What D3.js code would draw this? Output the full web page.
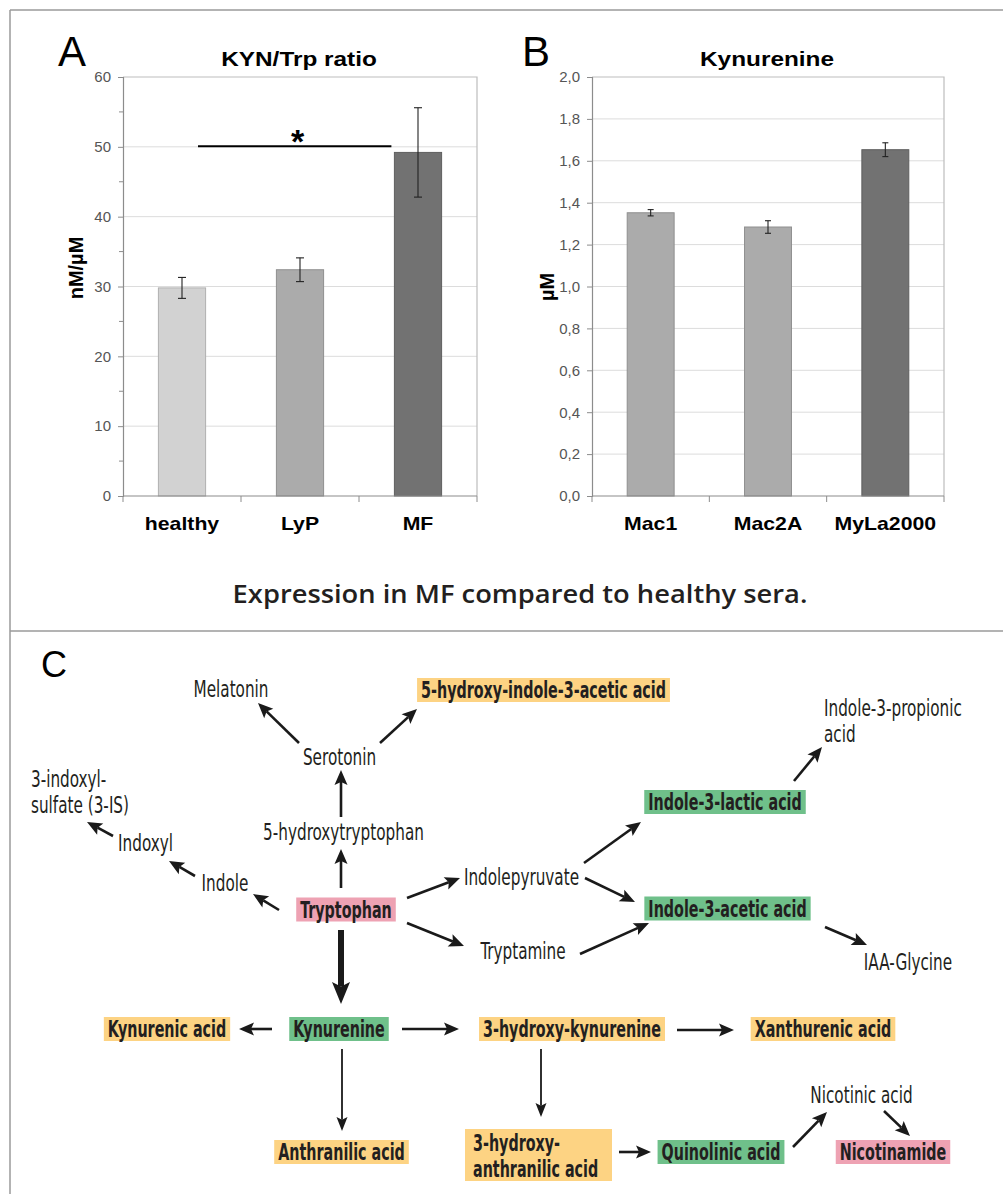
<!DOCTYPE html>
<html>
<head>
<meta charset="utf-8">
<script src="https://cdn.jsdelivr.net/npm/d3@7"></script>
<style>
  html, body { margin: 0; padding: 0; background: #fff; }
  svg { display: block; }
</style>
</head>
<body>
<svg id="fig" width="1003" height="1194"></svg>
<script>
// ---------------- DATA ----------------
const ratioCategories = ["healthy", "LyP", "MF"];
const ratioValues = [29.8, 32.4, 49.2];
const ratioErrors = [1.5, 1.7, 6.4];
const ratioTicks = [0, 10, 20, 30, 40, 50, 60];
const ratioMinorTicks = [5, 15, 25, 35, 45, 55];
const ratioColors = ["#d2d2d2", "#ababab", "#727272"];
const ratioSignificance = { from: "healthy", to: "MF", value: 50.1, label: "*" };

const kynCategories = ["Mac1", "Mac2A", "MyLa2000"];
const kynValues = [1.352, 1.284, 1.653];
const kynErrors = [0.015, 0.03, 0.033];
const kynTicks = [0, 0.2, 0.4, 0.6, 0.8, 1.0, 1.2, 1.4, 1.6, 1.8, 2.0];
const kynColors = ["#ababab", "#ababab", "#727272"];

const captionText = "Expression in MF compared to healthy sera.";

// Pathway diagram (panel C): labels and kinds
const pathNodes = [
  { lines: ["Melatonin"], kind: "plain", cx: 231, cy: 689 },
  { lines: ["5-hydroxy-indole-3-acetic acid"], kind: "orange", cx: 543.5, cy: 690 },
  { lines: ["Serotonin"], kind: "plain", cx: 339.5, cy: 757 },
  { lines: ["5-hydroxytryptophan"], kind: "plain", cx: 343.5, cy: 832 },
  { lines: ["3-indoxyl-", "sulfate (3-IS)"], kind: "plainLeft", x: 31, cy: 779, lh: 26 },
  { lines: ["Indoxyl"], kind: "plain", cx: 145.5, cy: 843 },
  { lines: ["Indole"], kind: "plain", cx: 225, cy: 883 },
  { lines: ["Tryptophan"], kind: "pink", cx: 346, cy: 909.5 },
  { lines: ["Indolepyruvate"], kind: "plain", cx: 521.5, cy: 877 },
  { lines: ["Indole-3-propionic", "acid"], kind: "plainLeft", x: 824, cy: 708, lh: 26 },
  { lines: ["Indole-3-lactic acid"], kind: "green", cx: 725, cy: 802 },
  { lines: ["Indole-3-acetic acid"], kind: "green", cx: 727.5, cy: 908.5 },
  { lines: ["Tryptamine"], kind: "plain", cx: 523, cy: 951 },
  { lines: ["IAA-Glycine"], kind: "plain", cx: 908, cy: 962 },
  { lines: ["Kynurenic acid"], kind: "orange", cx: 167, cy: 1029 },
  { lines: ["Kynurenine"], kind: "green", cx: 339, cy: 1029 },
  { lines: ["3-hydroxy-kynurenine"], kind: "orange", cx: 572, cy: 1029 },
  { lines: ["Xanthurenic acid"], kind: "orange", cx: 823, cy: 1029 },
  { lines: ["Anthranilic acid"], kind: "orange", cx: 341.5, cy: 1152 },
  { lines: ["3-hydroxy-", "anthranilic acid"], kind: "orangeLeft", x: 473, cy: 1143, lh: 26, box: [465, 1129, 612, 1181] },
  { lines: ["Quinolinic acid"], kind: "green", cx: 721, cy: 1152 },
  { lines: ["Nicotinic acid"], kind: "plain", cx: 861.5, cy: 1095 },
  { lines: ["Nicotinamide"], kind: "pink", cx: 893, cy: 1152 }
];
// arrows: [x1, y1, x2, y2, style]
const pathArrows = [
  [299, 743, 258, 703, "n"], [380, 743, 417, 709, "n"],
  [341, 817, 341, 770, "n"], [341, 888, 341, 849, "n"],
  [279, 910, 253, 894, "n"], [195, 876, 169, 861, "n"], [113, 836, 87, 822, "n"],
  [407, 898, 460, 878, "n"], [584, 863, 641, 822, "n"], [794, 781, 822, 747, "n"],
  [585, 878, 635, 902, "n"], [407, 923, 464, 946, "n"], [580, 954, 649, 923, "n"],
  [825, 927, 867, 945, "n"],
  [341, 930, 341, 1004, "b"],
  [272, 1029, 239, 1029, "n"], [402, 1029, 459, 1029, "n"], [677, 1030, 734, 1030, "n"],
  [342, 1049, 342, 1131, "t"], [541, 1049, 541, 1117, "t"],
  [619, 1152, 651, 1152, "n"], [793, 1147, 827, 1112, "n"], [884, 1111, 910, 1136, "n"]
];

// ---------------- STYLE ----------------
const svg = d3.select("#fig");
const chartFont = "'Liberation Sans', Arial, Helvetica, sans-serif";
const diagFont = "'Liberation Sans Narrow', 'Arial Narrow', 'DejaVu Sans Condensed', 'Liberation Sans', sans-serif";
const boxFill = { orange: "#fdd383", green: "#6fc08a", pink: "#eea2b3" };
const inkColor = "#231f20";
const stretch = 1.18;

svg.append("rect").attr("width", 1003).attr("height", 1194).attr("fill", "#fff");

// Frame lines
const frame = svg.append("g").attr("stroke", "#9a9a9a").attr("stroke-width", 1.5);
frame.append("line").attr("x1", 10).attr("x2", 1003).attr("y1", 10).attr("y2", 10);
frame.append("line").attr("x1", 10).attr("x2", 10).attr("y1", 10).attr("y2", 1194);
frame.append("line").attr("x1", 10).attr("x2", 1003).attr("y1", 631).attr("y2", 631);

function stretchedText(g, x, y, txt, opts) {
  const t = g.append("text")
    .attr("transform", `translate(${x},${y}) scale(${opts.sx || 1},1)`)
    .attr("text-anchor", opts.anchor || "middle")
    .attr("font-family", opts.family || chartFont)
    .attr("font-size", opts.size)
    .attr("font-weight", opts.weight || "normal")
    .attr("fill", opts.fill || "#000")
    .text(txt);
  return t;
}

// ---------------- BAR CHART PANEL ----------------
function barPanel(cfg) {
  const g = svg.append("g");
  const x = d3.scaleBand().domain(cfg.categories).range([cfg.left, cfg.right])
    .paddingInner(0.6).paddingOuter(0.3);
  const y = d3.scaleLinear().domain([0, cfg.max]).range([cfg.bottom, cfg.top]);

  // gridlines
  g.append("g").selectAll("line").data(cfg.ticks.filter(d => d > 0 && d < cfg.max)).join("line")
    .attr("x1", cfg.left).attr("x2", cfg.right)
    .attr("y1", d => y(d)).attr("y2", d => y(d))
    .attr("stroke", "#dcdcdc").attr("stroke-width", 1);
  // plot border (top & right)
  g.append("path")
    .attr("d", `M${cfg.left},${y(cfg.max)}H${cfg.right}V${cfg.bottom}`)
    .attr("fill", "none").attr("stroke", "#bdbdbd").attr("stroke-width", 1.2);

  // bars
  g.append("g").selectAll("rect").data(cfg.values).join("rect")
    .attr("x", (d, i) => x(cfg.categories[i]))
    .attr("width", x.bandwidth())
    .attr("y", d => y(d))
    .attr("height", d => y(0) - y(d))
    .attr("fill", (d, i) => cfg.colors[i])
    .attr("stroke", (d, i) => d3.color(cfg.colors[i]).darker(0.5))
    .attr("stroke-width", 1);

  // error bars
  const eb = g.append("g").attr("stroke", "#222").attr("stroke-width", 1.1);
  cfg.values.forEach((v, i) => {
    const cx = x(cfg.categories[i]) + x.bandwidth() / 2;
    const e = cfg.errors[i];
    eb.append("line").attr("x1", cx).attr("x2", cx).attr("y1", y(v + e)).attr("y2", y(v - e));
    eb.append("line").attr("x1", cx - cfg.cap).attr("x2", cx + cfg.cap).attr("y1", y(v + e)).attr("y2", y(v + e));
    eb.append("line").attr("x1", cx - cfg.cap).attr("x2", cx + cfg.cap).attr("y1", y(v - e)).attr("y2", y(v - e));
  });

  // y axis
  const yAxis = d3.axisLeft(y).tickValues(cfg.ticks).tickSize(5).tickPadding(7).tickFormat(cfg.format);
  const ya = g.append("g").attr("transform", `translate(${cfg.left},0)`).call(yAxis);
  ya.select(".domain").attr("stroke", "#8c8c8c").attr("stroke-width", 1.2);
  ya.selectAll(".tick line").attr("stroke", "#8c8c8c");
  ya.selectAll(".tick text").attr("font-family", chartFont).attr("font-size", 15).attr("fill", "#555");
  if (cfg.minor) {
    g.append("g").selectAll("line").data(cfg.minor).join("line")
      .attr("x1", cfg.left - 4).attr("x2", cfg.left)
      .attr("y1", d => y(d)).attr("y2", d => y(d))
      .attr("stroke", "#8c8c8c");
  }

  // x axis
  const xa = g.append("g");
  xa.append("line").attr("x1", cfg.left).attr("x2", cfg.right)
    .attr("y1", cfg.bottom).attr("y2", cfg.bottom).attr("stroke", "#8c8c8c").attr("stroke-width", 1.2);
  const bounds = [cfg.left].concat(cfg.categories.map(c => x(c) + x.bandwidth() + x.step() * 0.3));
  xa.selectAll("line.bt").data(bounds).join("line").attr("class", "bt")
    .attr("x1", d => d).attr("x2", d => d)
    .attr("y1", cfg.bottom).attr("y2", cfg.bottom + 6).attr("stroke", "#8c8c8c");
  cfg.categories.forEach(c => {
    stretchedText(g, x(c) + x.bandwidth() / 2, 530, c, { size: 18, weight: "bold", sx: stretch });
  });

  // title, axis label, panel letter
  stretchedText(g, cfg.titleX, 66, cfg.title, { size: 21, weight: "bold", sx: 1.16 });
  g.append("text")
    .attr("transform", `translate(${cfg.ylabelX},${cfg.ylabelY}) rotate(-90)`)
    .attr("text-anchor", "middle").attr("dy", "0.35em")
    .attr("font-family", chartFont).attr("font-size", 20).attr("font-weight", "bold")
    .text(cfg.ylabel);
  g.append("text").attr("x", cfg.letterX).attr("y", 66)
    .attr("font-family", chartFont).attr("font-size", 42).text(cfg.letter);

  return { g, x, y };
}

const panelA = barPanel({
  categories: ratioCategories, values: ratioValues, errors: ratioErrors, colors: ratioColors,
  ticks: ratioTicks, minor: ratioMinorTicks, max: 60, format: d3.format("d"),
  left: 123, right: 477, top: 77, bottom: 496, cap: 4,
  title: "KYN/Trp ratio", titleX: 299, ylabel: "nM/µM", ylabelX: 76, ylabelY: 268,
  letter: "A", letterX: 58
});

// significance bracket
{
  const { g, x, y } = panelA;
  const x1 = x(ratioSignificance.from) + x.bandwidth() / 2 + 16;
  const x2 = x(ratioSignificance.to) - 3;
  g.append("line").attr("x1", x1).attr("x2", x2)
    .attr("y1", y(ratioSignificance.value)).attr("y2", y(ratioSignificance.value))
    .attr("stroke", "#000").attr("stroke-width", 2);
  g.append("text").attr("x", (x1 + x2) / 2 + 3).attr("y", y(ratioSignificance.value) + 7)
    .attr("text-anchor", "middle").attr("font-family", chartFont)
    .attr("font-size", 34).attr("font-weight", "bold").text(ratioSignificance.label);
}

const commaLocale = d3.formatLocale({ decimal: ",", thousands: ".", grouping: [3], currency: ["", "€"] });
barPanel({
  categories: kynCategories, values: kynValues, errors: kynErrors, colors: kynColors,
  ticks: kynTicks, minor: null, max: 2.0, format: commaLocale.format(".1f"),
  left: 592, right: 944, top: 77, bottom: 496, cap: 3,
  title: "Kynurenine", titleX: 767, ylabel: "µM", ylabelX: 547, ylabelY: 287,
  letter: "B", letterX: 522
});

// caption
{
  const t = svg.append("text").attr("x", 0).attr("y", 0)
    .attr("font-family", "'Open Sans', 'Noto Sans', sans-serif").attr("font-weight", 600)
    .attr("font-size", 26).attr("fill", inkColor).attr("text-anchor", "middle").text(captionText);
  const w = t.node().getBBox().width;
  t.attr("transform", `translate(520,603) scale(${575 / w},1)`);
}

// ---------------- PANEL C: PATHWAY ----------------
const gc = svg.append("g");
gc.append("text").attr("x", 41).attr("y", 677)
  .attr("font-family", chartFont).attr("font-size", 36).text("C");

const diagSize = 23;
// calibrate condensed font widths
function measure(txt, weight) {
  const t = gc.append("text").attr("font-family", diagFont).attr("font-size", diagSize)
    .attr("font-weight", weight).text(txt);
  const w = t.node().getBBox().width;
  t.remove();
  return w;
}
const kReg = 161 / measure("5-hydroxytryptophan", "normal");
const kBold = 245 / measure("5-hydroxy-indole-3-acetic acid", "bold");

const boxLayer = gc.append("g");
const textLayer = gc.append("g");

pathNodes.forEach(n => {
  const bold = n.kind !== "plain" && n.kind !== "plainLeft";
  const k = bold ? kBold : kReg;
  const left = n.kind === "plainLeft" || n.kind === "orangeLeft";
  const color = n.kind.startsWith("orange") ? boxFill.orange : boxFill[n.kind];
  const xx = left ? n.x : n.cx;
  const t = textLayer.append("text")
    .attr("transform", `translate(${xx},${n.cy}) scale(${k},1)`)
    .attr("text-anchor", left ? "start" : "middle")
    .attr("font-family", diagFont).attr("font-size", diagSize)
    .attr("font-weight", bold ? "bold" : "normal")
    .attr("fill", inkColor);
  n.lines.forEach((line, i) => {
    t.append("tspan").attr("x", 0).attr("y", (n.lh || 0) * i).attr("dy", "0.35em").text(line);
  });
  if (bold) {
    if (n.box) {
      boxLayer.append("rect").attr("x", n.box[0]).attr("y", n.box[1])
        .attr("width", n.box[2] - n.box[0]).attr("height", n.box[3] - n.box[1]).attr("fill", color);
    } else {
      const w = t.node().getBBox().width * k + 8;
      boxLayer.append("rect").attr("x", n.cx - w / 2).attr("y", n.cy - 12)
        .attr("width", w).attr("height", 24).attr("fill", color);
    }
  }
});

// arrows
const arrowStyles = {
  n: { w: 2.6, len: 15, half: 6.5 },
  b: { w: 6, len: 22, half: 9 },
  t: { w: 1.8, len: 14, half: 5.5 }
};
const arrowLayer = gc.append("g").attr("fill", "#1a1a1a").attr("stroke", "#1a1a1a");
pathArrows.forEach(([x1, y1, x2, y2, s]) => {
  const st = arrowStyles[s];
  const a = Math.atan2(y2 - y1, x2 - x1);
  const ca = Math.cos(a), sa = Math.sin(a);
  const bx = x2 - st.len * ca, by = y2 - st.len * sa;
  const nx = x2 - st.len * 0.8 * ca, ny = y2 - st.len * 0.8 * sa;
  arrowLayer.append("line").attr("x1", x1).attr("y1", y1).attr("x2", nx).attr("y2", ny)
    .attr("stroke-width", st.w).attr("fill", "none");
  arrowLayer.append("path")
    .attr("d", `M${x2},${y2}L${bx - st.half * sa},${by + st.half * ca}L${nx},${ny}L${bx + st.half * sa},${by - st.half * ca}Z`)
    .attr("stroke", "none");
});
</script>
</body>
</html>
